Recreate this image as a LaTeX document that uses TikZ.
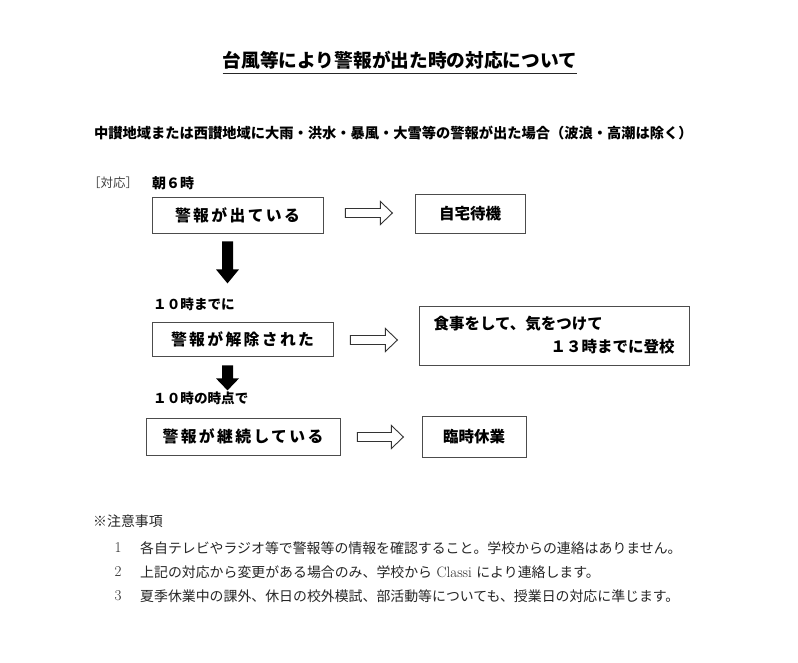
\documentclass[tikz,border=0pt]{standalone}
\usepackage{fontspec}
\usetikzlibrary{calc}
\newfontfamily\cjk{Noto Sans CJK JP}
\newfontfamily\cjksp{Noto Sans CJK JP}[LetterSpace=15]
\begin{document}
\begin{tikzpicture}[x=1pt,y=-1pt,
  txt/.style={inner sep=0pt,anchor=west,text=black},
  stepbox/.style={draw=black!70,line width=0.8pt,inner sep=0pt,font=\cjksp\bfseries\fontsize{15.8}{18}\selectfont},
  plainbox/.style={draw=black!70,line width=0.8pt,inner sep=0pt,font=\cjk\bfseries\fontsize{15.5}{23}\selectfont},
  hollow/.style={draw=black!80,line width=0.9pt,fill=white},
  solid/.style={fill=black},
  note/.style={txt,text=black!85,font=\cjk\fontsize{13.9}{16}\selectfont},
  num/.style={inner sep=0pt,anchor=center,text=black!85,font=\fontsize{15}{17}\selectfont}]
\useasboundingbox (0,0) rectangle (798,662);
\fill[white] (0,0) rectangle (798,662);

% title
\node[inner sep=0pt,font=\cjk\bfseries\fontsize{18.7}{20}\selectfont] (title) at (400,60) {台風等により警報が出た時の対応について};
\draw[line width=1.8pt,black!85] (title.west |- 0,73.5) -- (title.east |- 0,73.5);

% subtitle
\node[txt,font=\cjk\bfseries\fontsize{14.25}{16}\selectfont] (sub) at (94,133) {中讃地域または西讃地域に大雨・洪水・暴風・大雪等の警報が出た場合（波浪・高潮は除く）};

% labels
\node[txt,text=black!75,font=\cjk\fontsize{12.5}{14}\selectfont] (taiou) at (88,183) {［対応］};
\node[txt,font=\cjk\bfseries\fontsize{14}{16}\selectfont] (asa) at (152,183) {朝６時};

% boxes
\node[stepbox,minimum width=171pt,minimum height=36pt] (b1) at (237.5,215) {警報が出ている};
\node[plainbox,minimum width=110pt,minimum height=39pt] (b2) at (470,213.5) {自宅待機};
\node[txt,font=\cjk\bfseries\fontsize{13.6}{16}\selectfont] (t10a) at (153,304) {１０時までに};
\node[stepbox,minimum width=181pt,minimum height=34pt] (b3) at (242.5,339) {警報が解除された};
\node[plainbox,minimum width=270pt,minimum height=59pt,align=left] (b4) at (554,335.5) {食事をして、気をつけて\\\hspace{117pt}１３時までに登校};
\node[txt,font=\cjk\bfseries\fontsize{13.6}{16}\selectfont] (t10b) at (153,398) {１０時の時点で};
\node[stepbox,minimum width=194pt,minimum height=37pt] (b5) at (243,436.5) {警報が継続している};
\node[plainbox,minimum width=104pt,minimum height=41pt] (b6) at (474,436.5) {臨時休業};

% hollow arrows
\draw[hollow] ($(b1.east)+(22,-2)$) ++(0,-4.5) -- ++(35,0) -- ++(0,-7) -- ++(12,11.5) -- ++(-12,11.5) -- ++(0,-7) -- ++(-35,0) -- cycle;
\draw[hollow] ($(b3.east)+(17,1)$) ++(0,-4.5) -- ++(35,0) -- ++(0,-7) -- ++(12,11.5) -- ++(-12,11.5) -- ++(0,-7) -- ++(-35,0) -- cycle;
\draw[hollow] ($(b5.east)+(17,0.5)$) ++(0,-4.5) -- ++(34,0) -- ++(0,-7) -- ++(12,11.5) -- ++(-12,11.5) -- ++(0,-7) -- ++(-34,0) -- cycle;

% solid down arrows
\fill[solid] ($(b1.south)+(-10,8)$) ++(-5.5,0) -- ++(11,0) -- ++(0,28) -- ++(6,0) -- ++(-11.5,14) -- ++(-11.5,-14) -- ++(6,0) -- cycle;
\fill[solid] ($(b3.south)+(-15,9)$) ++(-5.5,0) -- ++(11,0) -- ++(0,13) -- ++(6,0) -- ++(-11.5,12) -- ++(-11.5,-12) -- ++(6,0) -- cycle;

% notes
\node[note] (nh) at (93,521) {※注意事項};
\node[num] (n1) at (118,548) {1};
\node[note] (l1) at (140,548) {各自テレビやラジオ等で警報等の情報を確認すること。学校からの連絡はありません。};
\node[num] (n2) at (118,572) {2};
\node[note] (l2) at (140,572) {上記の対応から変更がある場合のみ、学校から{\rmfamily\fontsize{15}{17}\selectfont\ Classi }により連絡します。};
\node[num] (n3) at (118,596) {3};
\node[note] (l3) at (140,596) {夏季休業中の課外、休日の校外模試、部活動等についても、授業日の対応に準じます。};
\end{tikzpicture}
\end{document}
